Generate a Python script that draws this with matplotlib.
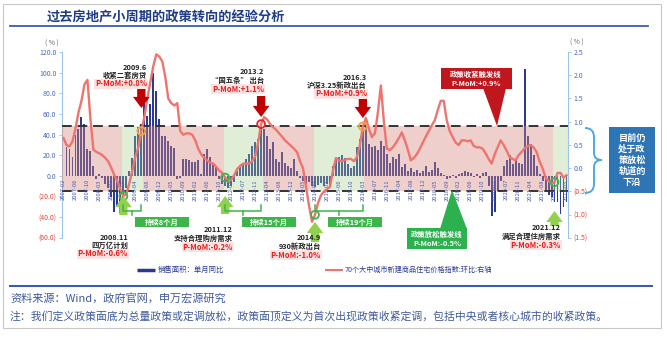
import numpy as np
import matplotlib.pyplot as plt
import matplotlib.transforms as mtrans
from matplotlib.patches import Rectangle, Polygon, PathPatch
from matplotlib.path import Path
from matplotlib.ticker import FuncFormatter

plt.rcParams['font.family'] = ['Noto Sans CJK SC', 'DejaVu Sans']
plt.rcParams['axes.unicode_minus'] = False

# monthly categories, January is merged into February in the source
months = [f'{y}-{m:02d}' for y in range(2007, 2023) for m in range(2, 13)
          if not (y == 2022 and m > 5)]

nan = np.nan
# 销售面积：单月同比 (%)  left axis
sales_yoy = (
    [nan, 28, 26, 18, 40, 45, 57, 50, 26, 24, 10] +          # 2007
    [-3, 2, -2, -8, -12, -20, -35, -30, -36, -25, -12] +     # 2008
    [5, 17, 39, 47, 50, 85, 58, 70, 100, 82, 55] +           # 2009
    [39, 39, 34, 29, 27, -3, -2, 16, 16, 15, 14] +           # 2010
    [14, 15, 2, 21, 26, 18, 13, 9, -3, -8, -10] +            # 2011
    [-12, -10, -6, 5, 10, 12, 16, 21, 29, 33, 36] +          # 2012
    [50, 45, 39, 26, 33, 16, 14, 23, 13, 10, 8] +            # 2013
    [16, 5, -2, -5, -8, -6, -10, -11, -9, -7, -10] +         # 2014
    [-8, -9, 10, 15, 18, 20, 17, 12, 8, 10, 28] +            # 2015
    [36, 45, 50, 31, 28, 29, 25, 34, 29, 21, 13] +           # 2016
    [18, 16, 21, 9, 12, 5, 8, 4, 6, 3, 5] +                  # 2017
    [10, 4, 6, 14, 8, 3, 1, -3, -2, 1, -2] +                 # 2018
    [2, 3, 5, 4, 3, -1, 2, -2, 3, 4, -10] +                  # 2019
    [-39, -35, -15, -5, 10, 15, 20, 12, 16, 13, 12] +        # 2020
    [104, 39, 31, 20, 10, 2, -5, -15, -18, -20, -25] +       # 2021
    [-25, -37, -30, -25]                                     # 2022
)

# 70个大中城市新建商品住宅价格指数:环比 (%)  right axis
price_mom = (
    [0.65, 0.5, 0.47, 0.58, 0.85, 1.2, 1.45, 1.8, 1.9, 1.05, 0.4] +
    [0.35, 0.32, 0.28, 0.22, 0.14, 0.0, -0.15, -0.28, -0.45, -0.6, -0.55] +
    [-0.32, -0.05, 0.25, 0.45, 0.8, 1.1, 1.5, 1.85, 2.2, 2.45, 2.4] +
    [2.3, 1.96, 1.5, 1.4, 1.35, 1.4, 0.8, 0.72, 0.75, 0.75, 0.72] +
    [0.6, 0.42, 0.3, 0.22, 0.17, 0.12, 0.1, 0.03, -0.05, -0.1, -0.2] +
    [-0.28, -0.25, -0.15, -0.02, 0.05, 0.1, 0.1, 0.1, 0.15, 0.25, 0.55] +
    [0.95, 1.1, 1.05, 0.95, 0.88, 0.83, 0.75, 0.68, 0.6, 0.54, 0.48] +
    [0.42, 0.35, 0.15, 0.0, -0.4, -0.8, -1.15, -1.0, -0.75, -0.58, -0.5] +
    [-0.45, -0.4, -0.05, 0.22, 0.17, 0.15, 0.18, 0.2, 0.2, 0.15, 0.24] +
    [0.5, 0.9, 1.08, 0.85, 0.67, 0.75, 1.2, 1.78, 1.0, 0.42, 0.39] +
    [0.45, 0.54, 0.65, 0.77, 0.6, 0.4, 0.17, 0.22, 0.3, 0.42, 0.55] +
    [0.68, 0.8, 0.92, 1.03, 1.25, 1.45, 1.45, 1.03, 0.8, 0.67, 0.55] +
    [0.5, 0.6, 0.6, 0.58, 0.6, 0.48, 0.45, 0.45, 0.42, 0.32, 0.2] +
    [0.1, 0.3, 0.45, 0.6, 0.5, 0.38, 0.24, 0.2, 0.17, 0.28, 0.35] +
    [0.43, 0.47, 0.5, 0.45, 0.35, 0.15, 0.0, -0.2, -0.28, -0.32, -0.3] +
    [-0.1, -0.1, -0.2, -0.15]
)

ease_points = ['2008-11', '2011-12', '2014-09', '2021-12']
tight_points = ['2009-06', '2013-02', '2016-03']
tight_line, ease_line = 0.9, -0.5

W, H = 667, 340
fig = plt.figure(figsize=(W / 100, H / 100), dpi=100)
ax = fig.add_axes([62 / W, 1 - 238 / H, 506 / W, 186 / H])
ax2 = ax.twinx()
ov = fig.add_axes([0, 0, 1, 1])
ov.set_xlim(0, W)
ov.set_ylim(H, 0)
ov.axis('off')
bt = mtrans.blended_transform_factory(ax2.transData, ov.transData)

x = np.arange(len(months))
ease_idx = [months.index(m) for m in ease_points]
tight_idx = [months.index(m) for m in tight_points]

# bars
ax.bar(x, sales_yoy, width=0.65, color='#2B3990', zorder=2)
ax.set_xlim(-0.5, len(months) - 0.5)
ax.set_ylim(-60, 120)
ax.set_yticks(np.arange(-60, 121, 20))
ax2.set_ylim(-1.5, 2.5)
ax2.set_yticks(np.arange(-1.5, 2.51, 0.5))
ax.set_xticks([])

fmt = lambda v, p: f'{v:.1f}' if v >= 0 else f'({-v:.1f})'
for a in (ax, ax2):
    a.yaxis.set_major_formatter(FuncFormatter(fmt))
    a.tick_params(axis='y', labelsize=5, length=2, width=0.6, color='#9DC3E6', pad=2)
    for s in a.spines.values():
        s.set_visible(False)
ax.spines['left'].set_visible(True)
ax.spines['left'].set_color('#9DC3E6')
ax2.spines['right'].set_visible(True)
ax2.spines['right'].set_color('#9DC3E6')
fig.canvas.draw()
for a, ticks in ((ax, ax.get_yticks()), (ax2, ax2.get_yticks())):
    for lbl, v in zip(a.get_yticklabels(), ticks):
        lbl.set_color('#4A6CC0' if v >= 0 else '#E0453C')

# policy bands between the trigger lines
prev = -0.5
for k, e in enumerate(ease_idx):
    ax2.fill_between([prev, e - 0.5], ease_line, tight_line, color='#D98880', alpha=0.4, lw=0, zorder=1)
    end = tight_idx[k] + 0.5 if k < len(tight_idx) else len(months) - 0.5
    ax2.fill_between([e - 0.5, end], ease_line, tight_line, color='#A9D18E', alpha=0.35, lw=0, zorder=1)
    prev = end
for lv in (tight_line, ease_line):
    ax2.axhline(lv, color='#333333', ls=(0, (5, 3)), lw=1.4, zorder=2)

# x labels hanging from the zero line
for c in range(0, len(months), 4):
    ax2.text(c, -3, months[c], transform=ax.transData, rotation=90, ha='center', va='top',
             fontsize=4.2, color='#4A5DB0', zorder=2)

ax2.plot(x, price_mom, color='#EE7470', lw=1.7, zorder=3)

# turning points
ax2.scatter(tight_idx, [price_mom[i] for i in tight_idx], s=32, facecolors='none',
            edgecolors=['#F4A13C', '#E8232A', '#F4A13C'], linewidths=1.3, zorder=4, clip_on=False)
ax2.scatter(ease_idx, [price_mom[i] for i in ease_idx], s=32, facecolors='none',
            edgecolors='#3CB44B', linewidths=1.3, zorder=4, clip_on=False)


def block_arrow(c, y_from, y_to, color):
    ax2.annotate('', xy=(c, y_to), xytext=(c, y_from), xycoords=bt, textcoords=bt,
                 arrowprops=dict(arrowstyle='simple,head_length=0.8,head_width=1.2,tail_width=0.6',
                                 fc=color, ec='none', mutation_scale=10, shrinkA=0, shrinkB=0),
                 annotation_clip=False, zorder=6)


for c, (y0, y1) in zip(tight_idx, [(88, 108), (96, 117), (98, 118)]):
    block_arrow(c, y0, y1, '#C00000')
for c, (y0, y1) in zip(ease_idx, [(215, 196), (214, 196), (242, 222), (226, 211)]):
    block_arrow(c, y0, y1, '#92D050')

# duration brackets
green = '#3DB54A'
for k, (lab, bx) in enumerate([('持续8个月', 135), ('持续15个月', 242), ('持续19个月', 328)]):
    c0, c1 = ease_idx[k], tight_idx[k]
    ax2.plot([c0, c0, c1, c1], [205, 211, 211, 205], transform=bt, color=green, lw=1.1,
             clip_on=False, zorder=6)
    ax2.plot([(c0 + c1) / 2] * 2, [211, 215], transform=bt, color=green, lw=1.1,
             clip_on=False, zorder=6)
    ov.add_patch(Rectangle((bx, 217), 54, 10, color=green, lw=0))
    ov.text(bx + 27, 222, lab, ha='center', va='center', fontsize=5.3, color='white',
            fontweight='bold')

# event labels
events = [
    (147, 67, '2009.6', '收紧二套房贷', 'P-MoM:+0.8%'),
    (264, 72, '2013.2', '“国五条” 出台', 'P-MoM:+1.1%'),
    (367, 77, '2016.3', '沪深3.25新政出台', 'P-MoM:+0.9%'),
    (128, 237, '2008.11', '四万亿计划', 'P-MoM:-0.6%'),
    (233, 230, '2011.12', '支持合理购房需求', 'P-MoM:-0.2%'),
    (321, 238, '2014.9', '930新政出台', 'P-MoM:-1.0%'),
    (561, 228, '2021.12', '满足合理住房需求', 'P-MoM:-0.3%'),
]
for ex, ey, d, t, p in events:
    ov.text(ex, ey, d, ha='right', va='center', fontsize=5.3, fontweight='bold', color='#222222')
    ov.text(ex, ey + 8.5, t, ha='right', va='center', fontsize=5.3, fontweight='bold', color='#222222')
    ov.text(ex, ey + 17, p, ha='right', va='center', fontsize=5.5, fontweight='bold', color='#E0201B',
            bbox=dict(boxstyle='square,pad=0.08', fc='#FBE3E3', ec='none'))

# trigger callouts
ov.add_patch(Polygon([(483, 88), (506, 88), (497, 126)], closed=True, color='#C0161E', lw=0))
ov.add_patch(Rectangle((441, 68), 71, 21, color='#C0161E', lw=0))
ov.text(476, 74, '政策收紧触发线', ha='center', va='center', fontsize=5.3, color='white', fontweight='bold')
ov.text(476, 83, 'P-MoM:+0.9%', ha='center', va='center', fontsize=5.3, color='white', fontweight='bold')
ov.add_patch(Polygon([(440, 229), (467, 229), (452, 190)], closed=True, color='#2DB04E', lw=0))
ov.add_patch(Rectangle((407, 228), 60, 21, color='#2DB04E', lw=0))
ov.text(437, 234, '政策放松触发线', ha='center', va='center', fontsize=5.3, color='white', fontweight='bold')
ov.text(437, 243, 'P-MoM:-0.5%', ha='center', va='center', fontsize=5.3, color='white', fontweight='bold')

# brace and side box
brace = Path([(585, 128), (594, 128), (594, 137), (594, 153), (594, 160), (602, 160),
              (594, 160), (594, 167), (594, 184), (594, 193), (585, 193)],
             [Path.MOVETO, Path.CURVE3, Path.CURVE3, Path.LINETO, Path.CURVE3, Path.CURVE3,
              Path.CURVE3, Path.CURVE3, Path.LINETO, Path.CURVE3, Path.CURVE3])
ov.add_patch(PathPatch(brace, fc='none', ec='#4FA8E6', lw=1.4))
ov.add_patch(Rectangle((609, 127), 46, 66, color='#2E75B6', lw=0))
for k, s in enumerate(['目前仍', '处于政', '策放松', '轨道的', '下沿']):
    ov.text(632, 138 + 11 * k, s, ha='center', va='center', fontsize=6.6, color='white', fontweight='bold')

# frame, title, units
ov.add_patch(Rectangle((3, 4), 658, 324, fc='none', ec='#C8C8C8', lw=0.8))
ov.text(47, 17, '过去房地产小周期的政策转向的经验分析', ha='left', va='center', fontsize=9.5,
        fontweight='bold', color='#1F3C88')
ov.plot([10, 648], [26, 26], color='#3A5DAE', lw=1.3)
ov.text(52, 44, '( % )', ha='center', va='center', fontsize=4.8, color='#666666')
ov.text(577, 43, '( % )', ha='center', va='center', fontsize=4.8, color='#666666')

# legend
ov.plot([137, 155], [270, 270], color='#2B3990', lw=2.5, solid_capstyle='butt')
ov.text(158, 270, '销售面积：单月同比', ha='left', va='center', fontsize=5.3, color='#2B3990')
ov.plot([325, 343], [270, 270], color='#EE7470', lw=1.5, solid_capstyle='butt')
ov.text(345, 270, '70个大中城市新建商品住宅价格指数:环比:右轴', ha='left', va='center', fontsize=5.1,
        color='#2B3990')

# footer
ov.plot([10, 652], [286, 286], color='#3A5DAE', lw=1.5)
ov.text(10, 298, '资料来源：Wind，政府官网，申万宏源研究', ha='left', va='center', fontsize=8,
        color='#3F5A9A')
ov.text(10, 316, '注：我们定义政策面底为总量政策或定调放松，政策面顶定义为首次出现政策收紧定调，'
        '包括中央或者核心城市的收紧政策。', ha='left', va='center', fontsize=7.8, color='#3F5A9A')

fig.savefig('out.png', dpi=100)
